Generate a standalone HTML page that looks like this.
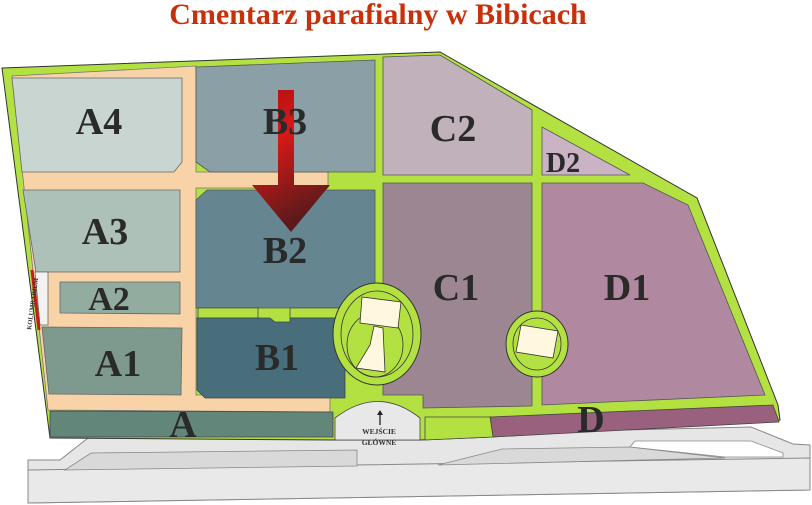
<!DOCTYPE html>
<html><head><meta charset="utf-8"><style>
html,body{margin:0;padding:0;background:#fff;}
svg{display:block;}
.l{font-family:"Liberation Serif",serif;font-weight:bold;fill:#2a2a2a;text-anchor:middle;}
</style></head><body>
<svg width="812" height="505" viewBox="0 0 812 505" xmlns="http://www.w3.org/2000/svg">
<defs>
<linearGradient id="ar" x1="0" y1="0" x2="0.3" y2="1">
<stop offset="0" stop-color="#b01010"/><stop offset="0.4" stop-color="#d81818"/><stop offset="1" stop-color="#5a1a1a"/>
</linearGradient>
</defs>
<text x="378" y="24" font-family="Liberation Serif,serif" font-weight="bold" font-size="30" fill="#c8300a" text-anchor="middle">Cmentarz parafialny w Bibicach</text>

<!-- road -->
<polygon points="28,460 60,460 88,438 332,437 751,427 793,444 810,445 810,490 28,503" fill="#e6e6e6" stroke="#888" stroke-width="1"/>
<polygon points="28,470 810,458 810,490 28,503" fill="#e9e9e9" stroke="#888" stroke-width="1"/>
<polygon points="65,470 91,453 357,450 357,466" fill="#d9d9d9" stroke="#888" stroke-width="0.8"/>
<polygon points="438,465 502,449 630,447 725,458" fill="#d9d9d9" stroke="#888" stroke-width="0.8"/>
<polygon points="630,447 635,441 751,441 783,453 783,457 725,457" fill="#fff" stroke="#888" stroke-width="0.8"/>

<!-- green base -->
<polygon points="2,68 440,52 697,198 778,405 780,420 490,437 420,440 333,440 50,438" fill="#b3e141" stroke="#333" stroke-width="1"/>
<!-- peach -->
<polygon points="12,76 196,66 196,172 328,172 328,188 196,188 196,395 330,395 330,412 48,410" fill="#f9d3a8" stroke="#777" stroke-width="0.8"/>

<polygon points="12,78 182,78 182,162 174,172 22,172" fill="#c9d5d1" stroke="#666" stroke-width="0.8"/>
<polygon points="23,190 180,190 180,272 36,272" fill="#adc1b8" stroke="#666" stroke-width="0.8"/>
<polygon points="60,282 180,282 180,314 60,313" fill="#92aca0" stroke="#666" stroke-width="0.8"/>
<polygon points="35,272 48,272 48,325 40,325" fill="#f2f2f2" stroke="#666" stroke-width="0.8"/>
<line x1="32" y1="270" x2="39" y2="330" stroke="#c81818" stroke-width="3"/>
<polygon points="42,327 182,328 181,395 49,394" fill="#7e9a8e" stroke="#666" stroke-width="0.8"/>
<polygon points="50,411 333,412 333,437 50,437" fill="#62877a" stroke="#444" stroke-width="0.8"/>

<polygon points="196,67 375,60 375,172 210,172 196,162" fill="#8a9fa6" stroke="#555" stroke-width="0.8"/>
<polygon points="196,200 207,190 375,190 375,308 340,308 196,308" fill="#658690" stroke="#555" stroke-width="0.8"/>
<polygon points="198,308 258,308 258,318 198,318" fill="#b3e141" stroke="#444" stroke-width="0.8"/>
<polygon points="290,308 345,308 345,318 290,318" fill="#b3e141" stroke="#444" stroke-width="0.8"/>
<polygon points="197,318 270,318 275,322 290,322 290,318 345,318 345,398 205,398 197,390" fill="#476e7a" stroke="#444" stroke-width="0.8"/>

<polygon points="383,57 440,55 532,110 532,175 383,175" fill="#c0b1bb" stroke="#555" stroke-width="0.8"/>
<polygon points="542,127 630,175 542,175" fill="#c9b3c4" stroke="#555" stroke-width="0.8"/>
<polygon points="383,183 532,183 532,406 423,408 423,395 383,395" fill="#9b8691" stroke="#555" stroke-width="0.8"/>
<polygon points="542,183 643,183 688,205 765,395 542,405" fill="#b088a0" stroke="#555" stroke-width="0.8"/>
<polygon points="490,417 773,405 779,422 493,437" fill="#9a617e" stroke="#444" stroke-width="0.8"/>
<polygon points="425,417 490,417 493,437 425,440" fill="#b3e141" stroke="#444" stroke-width="0.8"/>

<!-- entrance -->
<path d="M335,440 L335,418 Q378,385 420,418 L420,440 Z" fill="#e8e8e8" stroke="#444" stroke-width="0.8"/>
<line x1="380" y1="425" x2="380" y2="413" stroke="#222" stroke-width="1.3"/>
<polygon points="377,415 383,415 380,410" fill="#222"/>
<text x="379" y="434" font-family="Liberation Serif,serif" font-weight="bold" font-size="7.5" fill="#333" text-anchor="middle">WEJŚCIE</text>
<text x="379" y="445" font-family="Liberation Serif,serif" font-weight="bold" font-size="7.5" fill="#333" text-anchor="middle">GŁÓWNE</text>

<!-- circles -->
<ellipse cx="377" cy="334" rx="44" ry="51" fill="#b3e141" stroke="#333" stroke-width="1"/>
<ellipse cx="377" cy="334" rx="36" ry="43" fill="none" stroke="#333" stroke-width="0.8"/>
<ellipse cx="375" cy="345" rx="28" ry="32" fill="none" stroke="#333" stroke-width="0.8"/>
<polygon points="362,297 401,302 398,328 360,323" fill="#fff8de" stroke="#333" stroke-width="0.8"/>
<polygon points="374,326 383,328 385,372 356,368 370,345" fill="#fff8de" stroke="#333" stroke-width="0.8"/>
<ellipse cx="537" cy="344" rx="31" ry="33" fill="#b3e141" stroke="#333" stroke-width="1"/>
<ellipse cx="537" cy="344" rx="24" ry="26" fill="none" stroke="#333" stroke-width="0.8"/>
<polygon points="521,325 558,331 553,358 516,352" fill="#fff8de" stroke="#333" stroke-width="0.8"/>

<!-- arrow -->
<polygon points="278,90 294,90 294,185 330,185 291,232 252,185 278,185" fill="url(#ar)"/>

<text class="l" x="99" y="134" font-size="38">A4</text>
<text class="l" x="285" y="134" font-size="38">B3</text>
<text class="l" x="453" y="141" font-size="38">C2</text>
<text class="l" x="563" y="172" font-size="28">D2</text>
<text class="l" x="105" y="244" font-size="38">A3</text>
<text class="l" x="285" y="263" font-size="38">B2</text>
<text class="l" x="456" y="300" font-size="38">C1</text>
<text class="l" x="627" y="300" font-size="38">D1</text>
<text class="l" x="109" y="310" font-size="34">A2</text>
<text class="l" x="118" y="376" font-size="38">A1</text>
<text class="l" x="277" y="370" font-size="38">B1</text>
<text class="l" x="183" y="437" font-size="38">A</text>
<text class="l" x="591" y="432" font-size="38">D</text>
<text x="0" y="0" transform="translate(31,330) rotate(-82)" font-family="Liberation Serif,serif" font-weight="bold" font-size="6.5" fill="#333">KOLUMBARIUM</text>
</svg>
</body></html>
